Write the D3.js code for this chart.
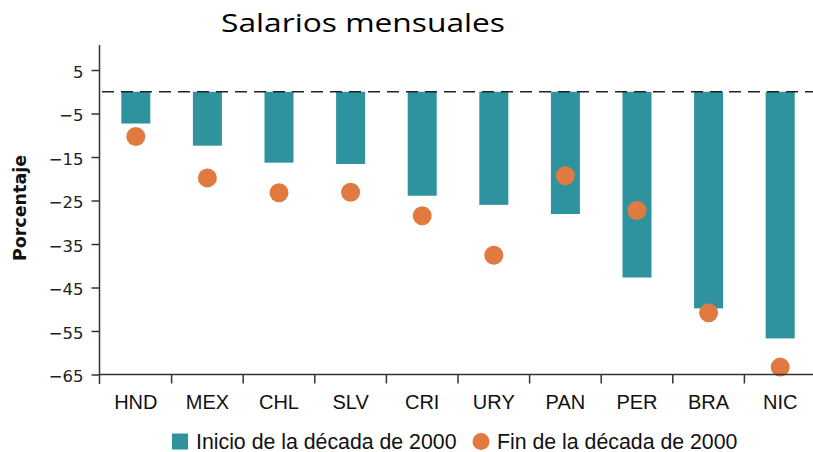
<!DOCTYPE html>
<html>
<head>
<meta charset="utf-8">
<script src="https://cdn.jsdelivr.net/npm/d3@7"></script>
<style>
  html, body { margin: 0; padding: 0; background: #fff; }
  svg { display: block; }
</style>
</head>
<body>
<svg id="chart" width="813" height="452"></svg>
<script>
const categories = ["HND", "MEX", "CHL", "SLV", "CRI", "URY", "PAN", "PER", "BRA", "NIC"];
const inicio = [-7.3, -12.4, -16.3, -16.6, -23.9, -26.0, -28.1, -42.7, -49.8, -56.7];
const fin = [-10.3, -19.8, -23.2, -23.1, -28.5, -37.6, -19.3, -27.3, -50.8, -63.3];
const yTicks = [5, -5, -15, -25, -35, -45, -55, -65];
const title = "Salarios mensuales";
const yLabel = "Porcentaje";
const legendLabels = ["Inicio de la década de 2000", "Fin de la década de 2000"];

const teal = "#2e939e";
const orange = "#e07a40";
const axisColor = "#333";
const font = "'DejaVu Sans', sans-serif";
const fontArial = "'Liberation Sans', Arial, sans-serif";

const svg = d3.select("#chart");

const x = d3.scaleBand().domain(categories).range([100, 816]).padding(0);
const y = d3.scaleLinear().domain([-65, 10.75]).range([374.5, 45]);

// Title
svg.append("text")
  .attr("x", 221).attr("y", 31.5)
  .attr("font-family", "'Open Sans', 'Noto Sans', sans-serif")
  .attr("font-size", 26)
  .attr("textLength", 284)
  .attr("lengthAdjust", "spacingAndGlyphs")
  .attr("fill", "#000")
  .text(title);

// Bars
const barW = x.bandwidth() * 0.405;
svg.append("g").selectAll("rect")
  .data(categories.map((c, i) => ({ c, v: inicio[i] })))
  .join("rect")
  .attr("x", d => x(d.c) + x.bandwidth() / 2 - barW / 2)
  .attr("y", y(0))
  .attr("width", barW)
  .attr("height", d => y(d.v) - y(0))
  .attr("fill", teal);

// Zero dashed line
svg.append("line")
  .attr("x1", 102).attr("x2", 813)
  .attr("y1", y(0)).attr("y2", y(0))
  .attr("stroke", "#222")
  .attr("stroke-width", 1.6)
  .attr("stroke-dasharray", "12,7");

// Dots
svg.append("g").selectAll("circle")
  .data(categories.map((c, i) => ({ c, v: fin[i] })))
  .join("circle")
  .attr("cx", d => x(d.c) + x.bandwidth() / 2)
  .attr("cy", d => y(d.v))
  .attr("r", 9.5)
  .attr("fill", orange);

// Y axis
const yAxis = svg.append("g")
  .attr("transform", "translate(99.5,0)")
  .call(d3.axisLeft(y).tickValues(yTicks).tickSize(8).tickPadding(8).tickFormat(d3.format("d")));
yAxis.select(".domain").attr("stroke", axisColor).attr("stroke-width", 1.5).attr("d", `M0,${y.range()[1]}V384`);
yAxis.selectAll(".tick line").attr("stroke", axisColor).attr("stroke-width", 1.5);
yAxis.selectAll(".tick text")
  .attr("font-family", font).attr("font-size", 16.5).attr("fill", "#222")
  .attr("dy", "0.45em");

// X axis
const boundaries = categories.map(c => x(c));
const xAxis = svg.append("g").attr("transform", `translate(0,${y(-65)})`);
xAxis.append("line")
  .attr("x1", 99.5).attr("x2", 813).attr("y1", 0).attr("y2", 0)
  .attr("stroke", axisColor).attr("stroke-width", 1.5);
xAxis.selectAll("line.tk")
  .data(boundaries.slice(1))
  .join("line").attr("class", "tk")
  .attr("x1", d => d).attr("x2", d => d)
  .attr("y1", 0).attr("y2", 9)
  .attr("stroke", axisColor).attr("stroke-width", 1.5);
xAxis.selectAll("text")
  .data(categories)
  .join("text")
  .attr("x", d => x(d) + x.bandwidth() / 2)
  .attr("y", 34.5)
  .attr("text-anchor", "middle")
  .attr("font-family", fontArial).attr("font-size", 20)
  .attr("fill", "#111")
  .text(d => d);

// Y label
svg.append("text")
  .attr("transform", "translate(26,208) rotate(-90)")
  .attr("text-anchor", "middle")
  .attr("font-family", font).attr("font-weight", "bold").attr("font-size", 17.5)
  .attr("fill", "#111")
  .text(yLabel);

// Legend
const lg = svg.append("g");
lg.append("rect").attr("x", 172).attr("y", 433.5).attr("width", 16).attr("height", 16).attr("fill", teal);
lg.append("text").attr("x", 196).attr("y", 448.5)
  .attr("font-family", fontArial).attr("font-size", 21.3).attr("fill", "#111")
  .text(legendLabels[0]);
lg.append("circle").attr("cx", 481).attr("cy", 441.5).attr("r", 8.5).attr("fill", orange);
lg.append("text").attr("x", 497).attr("y", 448.5)
  .attr("font-family", fontArial).attr("font-size", 21.3).attr("fill", "#111")
  .text(legendLabels[1]);
</script>
</body>
</html>
